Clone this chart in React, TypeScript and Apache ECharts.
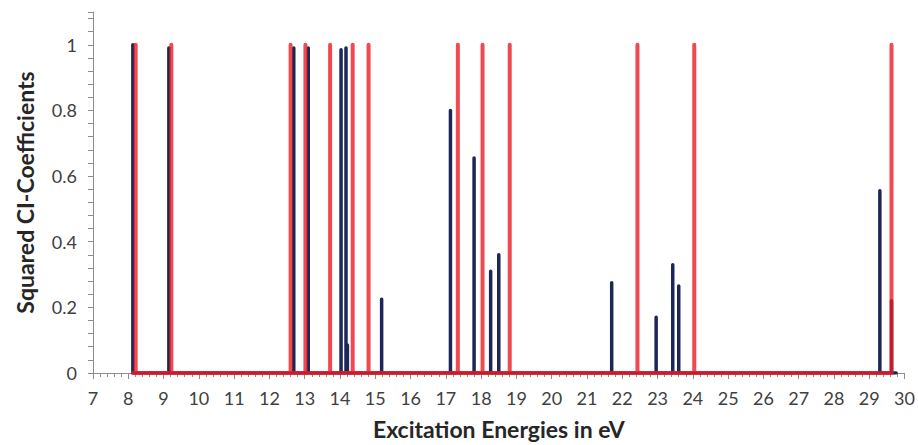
import React, { useEffect, useRef } from "react";
import * as echarts from "echarts";

// Excitation energies (eV) and squared CI coefficients
const blueEnergies = [8.13, 9.15, 12.69, 13.1, 14.03, 14.17, 14.21, 15.18, 17.13, 17.8, 18.27, 18.5, 21.7, 22.96, 23.43, 23.6, 29.3, 29.63];
const blueValues = [1.0, 0.99, 0.99, 0.99, 0.985, 0.99, 0.085, 0.225, 0.8, 0.655, 0.31, 0.36, 0.275, 0.17, 0.33, 0.265, 0.555, 0.22];
const blueEnd = 29.76;

const redEnergies = [8.21, 9.22, 12.6, 13.02, 13.72, 14.36, 14.81, 17.34, 18.04, 18.81, 22.43, 24.04, 29.63];
const redValues = [1, 1, 1, 1, 1, 1, 1, 1, 1, 1, 1, 1, 1];

const xMin = 7;
const xMax = 30;
const yMax = 1.1;

const FONT = "Lato, 'Open Sans', sans-serif";

function spikes(xs: number[], ys: number[], start?: number, end?: number): number[][] {
  const out: number[][] = [];
  if (start !== undefined) out.push([start, 0]);
  xs.forEach((x, i) => {
    out.push([x, 0]);
    out.push([x, ys[i]]);
    out.push([x, 0]);
  });
  if (end !== undefined) out.push([end, 0]);
  return out;
}

export default function App() {
  const ref = useRef<HTMLDivElement>(null);
  useEffect(() => {
    document.body.style.margin = "0";
    const chart = echarts.init(ref.current!, null, { renderer: "svg" });
    chart.setOption({
      animation: false,
      backgroundColor: "#ffffff",
      grid: { left: 93, right: 11, top: 12, bottom: 64, containLabel: false },
      xAxis: {
        type: "value",
        min: xMin,
        max: xMax,
        interval: 1,
        name: "Excitation Energies in eV",
        nameLocation: "middle",
        nameGap: 44,
        nameTextStyle: { fontFamily: FONT, fontSize: 23, fontWeight: "bold", color: "#262626" },
        axisLine: { show: true, lineStyle: { color: "#8c8c8c", width: 1 } },
        axisTick: { show: true, length: 6, lineStyle: { color: "#8c8c8c" } },
        minorTick: { show: true, splitNumber: 5, length: 4, lineStyle: { color: "#8c8c8c" } },
        splitLine: { show: false },
        axisLabel: { fontFamily: FONT, fontSize: 18, color: "#404040", margin: 16 },
      },
      yAxis: {
        type: "value",
        min: 0,
        max: yMax,
        interval: 0.2,
        name: "Squared CI-Coefficients",
        nameLocation: "middle",
        nameGap: 57,
        nameTextStyle: { fontFamily: FONT, fontSize: 23, fontWeight: "bold", color: "#262626" },
        axisLine: { show: true, lineStyle: { color: "#8c8c8c", width: 1 } },
        axisTick: { show: true, length: 5, lineStyle: { color: "#8c8c8c" } },
        minorTick: { show: true, splitNumber: 5, length: 5, lineStyle: { color: "#8c8c8c" } },
        splitLine: { show: false },
        axisLabel: {
          fontFamily: FONT,
          fontSize: 18,
          color: "#404040",
          margin: 16,
          showMaxLabel: false,
          formatter: (v: number) => (Math.abs(v * 5 - Math.round(v * 5)) < 1e-6 ? String(Math.round(v * 10) / 10) : ""),
        },
      },
      series: [
        {
          type: "line",
          data: spikes(blueEnergies, blueValues, undefined, blueEnd),
          showSymbol: false,
          symbol: "none",
          lineStyle: { color: "#1c2758", width: 3.5, cap: "round", join: "round" },
          z: 2,
        },
        {
          type: "line",
          data: spikes(redEnergies, redValues, blueEnergies[0]),
          showSymbol: false,
          symbol: "none",
          lineStyle: { color: "rgba(237,28,36,0.8)", width: 4, cap: "round", join: "round" },
          z: 3,
        },
      ],
    });
    return () => chart.dispose();
  }, []);
  return <div ref={ref} style={{ width: 918, height: 445 }} />;
}
